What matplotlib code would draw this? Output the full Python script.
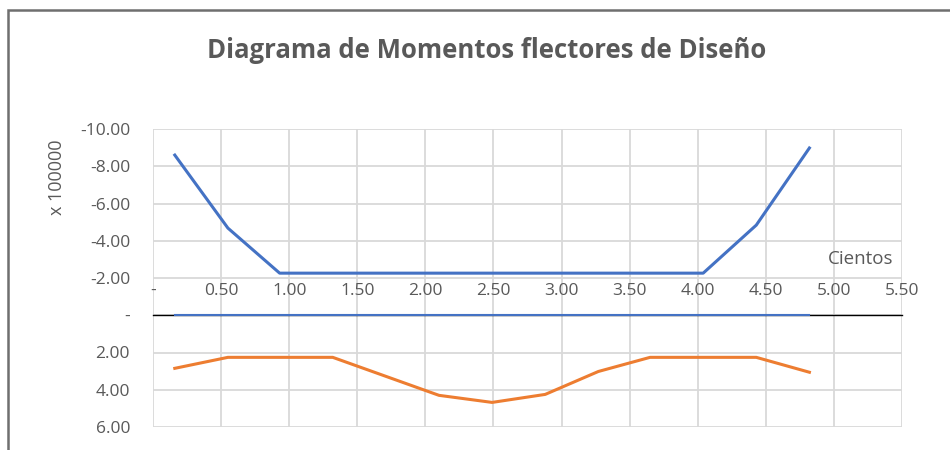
import matplotlib.pyplot as plt
from matplotlib.patches import Rectangle
from matplotlib.ticker import FuncFormatter, MultipleLocator

# estaciones a lo largo de la viga (en cientos)
estaciones = [0.16, 0.55, 0.93, 1.32, 1.71, 2.10, 2.49, 2.88, 3.27, 3.65, 4.04, 4.43, 4.82]
# momentos de diseño (x 100000)
momento_neg = [-8.60, -4.68, -2.26, -2.26, -2.26, -2.26, -2.26, -2.26, -2.26, -2.26, -2.26, -4.84, -8.98]
momento_pos = [2.85, 2.26, 2.26, 2.26, 3.28, 4.30, 4.68, 4.25, 3.02, 2.26, 2.26, 2.26, 3.06]
momento_cero = [0.0] * len(estaciones)

gris = "#595959"
plt.rcParams['font.family'] = ['Open Sans', 'DejaVu Sans']

fig = plt.figure(figsize=(9.5, 4.5), dpi=100)
# marco del grafico
fig.patches.append(Rectangle((8 / 950, -0.05), 1.2, 1 - 10 / 450 + 0.05, transform=fig.transFigure,
                             fill=False, edgecolor="#6f6f6f", linewidth=1.8))

ax = fig.add_axes([153 / 950, 1 - 427 / 450, 749 / 950, 298 / 450])

ax.plot(estaciones, momento_cero, color="#4472C4", linewidth=1.5, zorder=3)
ax.plot(estaciones, momento_neg, color="#4472C4", linewidth=2.2, zorder=3)
ax.plot(estaciones, momento_pos, color="#ED7D31", linewidth=2.2, zorder=3)

ax.set_xlim(0, 5.5)
ax.set_ylim(6, -10)  # eje invertido
ax.xaxis.set_major_locator(MultipleLocator(0.5))
ax.yaxis.set_major_locator(MultipleLocator(2))

fmt = FuncFormatter(lambda v, p: "-" if abs(v) < 1e-9 else f"{v:.2f}")
ax.xaxis.set_major_formatter(fmt)
ax.yaxis.set_major_formatter(fmt)

# eje horizontal cruzando en cero, etiquetas arriba
for s in ["left", "right", "bottom"]:
    ax.spines[s].set_visible(False)
ax.spines["top"].set_position(("data", 0))
ax.spines["top"].set_color("black")
ax.spines["top"].set_linewidth(1.0)
ax.spines["top"].set_zorder(2)
ax.xaxis.tick_top()
ax.tick_params(axis="x", length=0, pad=12, labelsize=12.5, labelcolor=gris)
ax.tick_params(axis="y", length=0, pad=16.5, labelsize=12.5, labelcolor=gris)

ax.grid(True, color="#d9d9d9", linewidth=1.3, zorder=0)
ax.set_axisbelow(True)

fig.text(487 / 950, 1 - 51 / 450, "Diagrama de Momentos flectores de Diseño",
         ha="center", va="center", fontsize=18.5, fontweight="bold", color=gris)
fig.text(57 / 950, 1 - 177 / 450, "x 100000", rotation=90, ha="center", va="center",
         fontsize=13, color=gris)
fig.text(861 / 950, 1 - 259 / 450, "Cientos", ha="center", va="center",
         fontsize=13.5, color=gris)

fig.savefig("out.png", dpi=100)
